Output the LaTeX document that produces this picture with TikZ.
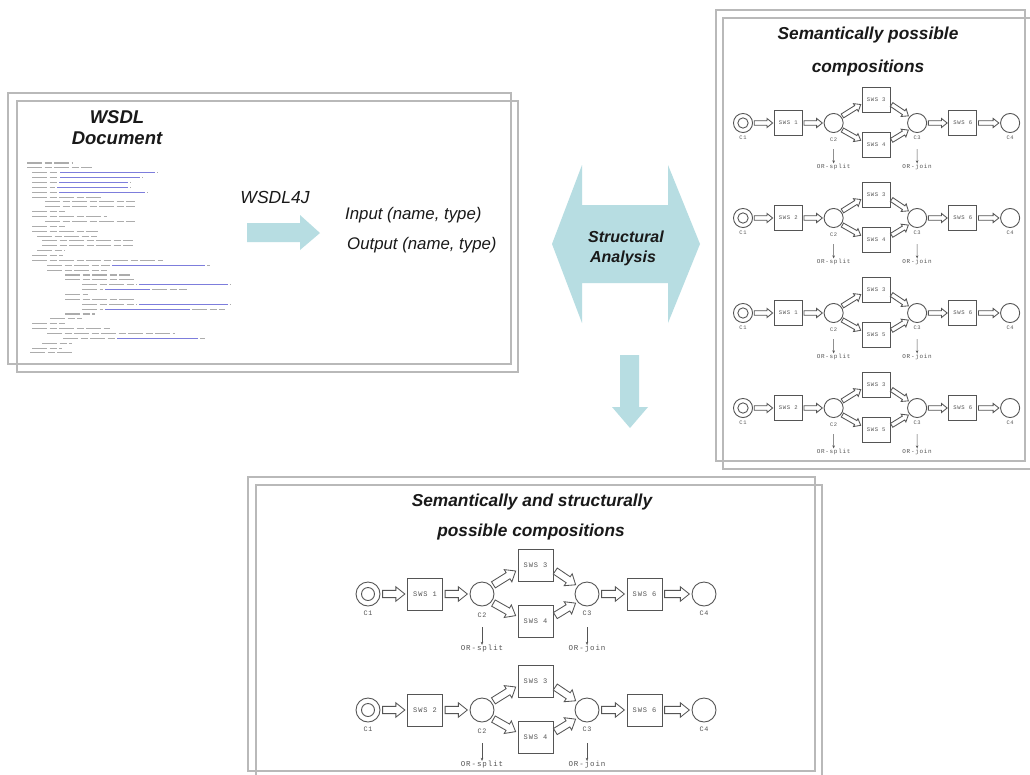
\documentclass[tikz,border=0pt]{standalone}
\usepackage{fontspec}
\setmainfont{Liberation Sans}
\newfontfamily\netfont[LetterSpace=12]{Liberation Mono}
\usetikzlibrary{calc,arrows.meta}

\definecolor{panelline}{RGB}{185,185,185}
\definecolor{arrowblue}{RGB}{183,221,226}
\definecolor{netgray}{RGB}{85,85,85}
\definecolor{codegray}{RGB}{172,172,172}
\definecolor{codeblue}{RGB}{125,125,220}

\tikzset{
  panel/.style={draw=panelline, line width=1.1pt},
  heading/.style={font=\fontsize{17.3}{20}\selectfont\bfseries\itshape, text=black!90, inner sep=0pt},
  plain/.style={font=\fontsize{16.8}{20}\selectfont\itshape, text=black!90, inner sep=0pt},
  place/.style={circle, draw=netgray, line width=0.9pt, minimum size=24pt, inner sep=0pt},
  net/.style={draw=netgray, line width=0.9pt},
  sws/.style={rectangle, draw=netgray, line width=0.9pt, minimum width=35pt, minimum height=32pt,
    inner sep=0pt, font=\netfont\fontsize{7}{8}\selectfont, text=netgray},
  lbl/.style={font=\netfont\fontsize{6.8}{8}\selectfont, text=netgray, inner sep=0pt},
  orlbl/.style={font=\netfont\fontsize{7.5}{8}\selectfont, text=netgray, inner sep=0.5pt},
  hollowarrow/.style={draw=netgray, line width=0.85pt, fill=white, line join=miter},
  smallarr/.style={draw=netgray, line width=0.7pt, -{Stealth[length=3pt,width=2.6pt]}},
  bigarrow/.style={fill=arrowblue, draw=none},
  codeline/.style={draw=codegray, line width=1.05pt, dash pattern=on 15pt off 2.5pt on 7pt off 2.5pt},
  codelink/.style={draw=codeblue, line width=1.05pt},
}

% hollow block arrow between two anchors (uses \hgap, \hw, \hW, \hhead)
\newcommand\hollowconn[2]{%
  \path ($(#1)!\hgap pt!(#2)$) coordinate (ha);
  \path ($(#2)!\hgap pt!(#1)$) coordinate (hb);
  \path ($(hb)!\hhead pt!(ha)$) coordinate (hh);
  \draw[hollowarrow] ($(ha)!\hw pt!90:(hb)$) -- ($(hh)!\hw pt!90:(hb)$)
    -- ($(hh)!\hW pt!90:(hb)$) -- (hb) -- ($(hh)!\hW pt!-90:(hb)$)
    -- ($(hh)!\hw pt!-90:(hb)$) -- ($(ha)!\hw pt!-90:(hb)$) -- cycle;
}

% one composition net: prefix, x, y, scale, first service, lower branch service
\newcommand\composition[6]{%
  \begin{scope}[shift={(#2,#3)}, scale=#4, transform shape]
    \pgfmathsetmacro\hgap{2.2*#4}
    \pgfmathsetmacro\hw{3.6*#4}
    \pgfmathsetmacro\hW{7.2*#4}
    \pgfmathsetmacro\hhead{9*#4}
    \node[place] (#1c1) at (0,0) {};
    \draw[net] (#1c1.center) circle[radius=6.5];
    \node[lbl] (#1l1) at (0,19) {C1};
    \node[sws] (#1s1) at (57,0) {SWS #5};
    \node[place] (#1c2) at (114,0) {};
    \node[lbl] (#1l2) at (114,21) {C2};
    \node[sws] (#1s3) at (167.5,-29) {SWS 3};
    \node[sws] (#1s4) at (167.5,27.5) {SWS #6};
    \node[place] (#1c3) at (219,0) {};
    \node[lbl] (#1l3) at (219,19) {C3};
    \node[sws] (#1s6) at (276.5,0) {SWS 6};
    \node[place] (#1c4) at (336,0) {};
    \node[lbl] (#1l4) at (336,19) {C4};
    \node[orlbl] (#1o2) at (114,55) {OR-split};
    \node[orlbl] (#1o3) at (219,55) {OR-join};
    \coordinate (#1t2) at (114,33);
    \coordinate (#1t3) at (219,33);
    \draw[smallarr] (#1t2) -- (#1o2);
    \draw[smallarr] (#1t3) -- (#1o3);
    \hollowconn{#1c1.east}{#1s1.west}
    \hollowconn{#1s1.east}{#1c2.west}
    \hollowconn{#1c2.40}{#1s3.195}
    \hollowconn{#1c2.320}{#1s4.165}
    \hollowconn{#1s3.345}{#1c3.140}
    \hollowconn{#1s4.15}{#1c3.220}
    \hollowconn{#1c3.east}{#1s6.west}
    \hollowconn{#1s6.east}{#1c4.west}
  \end{scope}
}

\begin{document}
\begin{tikzpicture}[x=1pt,y=-1pt]
  \useasboundingbox (0,0) rectangle (1030,774);
  \fill[white] (0,0) rectangle (1030,774);
  \clip (0,0) rectangle (1030,774);

  % ---------- panels ----------
  \draw[panel] (8,93) rectangle (511,364);
  \draw[panel] (17,101) rectangle (518,372);
  \draw[panel] (716,10) rectangle (1025,461);
  \draw[panel] (723,18) rectangle (1040,469);
  \draw[panel] (248,477) rectangle (815,771);
  \draw[panel] (256,485) rectangle (822,784);

  % ---------- WSDL document ----------
  \node[heading, font=\fontsize{18.5}{20}\selectfont\bfseries\itshape] (wsdl) at (117,117) {WSDL};
  \node[heading, font=\fontsize{18.5}{20}\selectfont\bfseries\itshape] (doc) at (117,138) {Document};

  % listing of the document, as small greyed lines
  \foreach \s/\g/\b/\t [count=\k] in {
      27/73/0/0, 27/92/0/0, 32/58/155/158, 32/58/140/143, 32/57/128/131,
      32/55/128/131, 32/57/145/148, 32/103/0/0, 45/135/0/0, 45/135/0/0,
      32/65/0/0, 32/107/0/0, 45/135/0/0, 32/65/0/0, 32/98/0/0,
      37/97/0/0, 42/133/0/0, 42/133/0/0, 37/65/0/0, 32/63/0/0,
      32/163/0/0, 47/110/205/210, 47/107/0/0, 65/130/0/0, 65/135/0/0,
      82/137/228/231, 82/103/150/187, 65/88/0/0, 65/135/0/0, 82/137/228/231,
      82/103/190/225, 65/95/0/0, 50/82/0/0, 32/65/0/0, 32/110/0/0,
      47/175/0/0, 63/115/198/205, 42/72/0/0, 32/62/0/0, 30/72/0/0} {
    \pgfmathsetmacro\yy{163+(\k-1)*4.87}
    \draw[codeline] (\s,\yy) -- (\g,\yy);
    \ifnum\b>0
      \draw[codelink] (\g+2,\yy) -- (\b,\yy);
      \ifnum\t>\b
        \draw[codeline] (\b+2,\yy) -- (\t,\yy);
      \fi
    \fi
  }

  % ---------- WSDL4J step ----------
  \node[plain, font=\fontsize{17.5}{20}\selectfont\itshape] (wsdl4j) at (275,197) {WSDL4J};
  \fill[bigarrow] (247,223) -- (300,223) -- (300,215) -- (320,233) -- (300,250)
    -- (300,242) -- (247,242) -- cycle;
  \node[plain, anchor=west] (inp) at (345,215) {Input (name, type)};
  \node[plain, anchor=west] (outp) at (347,245) {Output (name, type)};

  % ---------- structural analysis ----------
  \fill[bigarrow] (552,244) -- (582,165) -- (582,205) -- (668,205) -- (668,165)
    -- (700,244) -- (668,323) -- (668,283) -- (582,283) -- (582,323) -- cycle;
  \node[heading, font=\fontsize{16}{20}\selectfont\bfseries\itshape] (sa1) at (626,237) {Structural};
  \node[heading, font=\fontsize{16}{20}\selectfont\bfseries\itshape] (sa2) at (623,258) {Analysis};
  \fill[bigarrow] (620,355) -- (639,355) -- (639,407) -- (648,407) -- (630,428)
    -- (612,407) -- (620,407) -- cycle;

  % ---------- semantically possible compositions ----------
  \node[heading] (semt1) at (868,35) {Semantically possible};
  \node[heading] (semt2) at (868,68) {compositions};
  \composition{ra}{743}{123}{0.795}{1}{4}
  \composition{rb}{743}{218}{0.795}{2}{4}
  \composition{rc}{743}{313}{0.795}{1}{5}
  \composition{rd}{743}{408}{0.795}{2}{5}

  % ---------- semantically and structurally possible compositions ----------
  \node[heading] (sst1) at (532,502) {Semantically and structurally};
  \node[heading] (sst2) at (531,532) {possible compositions};
  \composition{ba}{368}{594}{1}{1}{4}
  \composition{bb}{368}{710}{1}{2}{4}
\end{tikzpicture}
\end{document}
